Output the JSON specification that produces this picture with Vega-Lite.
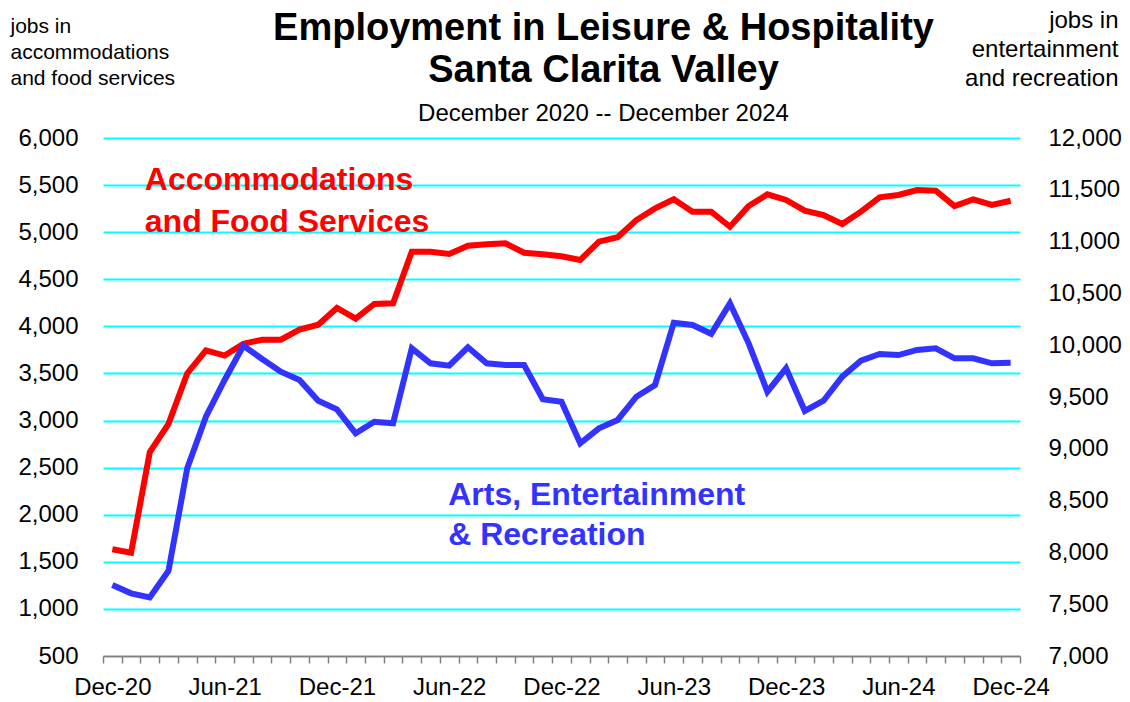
{
  "$schema": "https://vega.github.io/schema/vega-lite/v6.json",
  "width": 917,
  "height": 518,
  "autosize": {"type": "none"},
  "padding": {"left": 103, "top": 138, "right": 110, "bottom": 46},
  "background": "white",
  "config": {
    "font": "Liberation Sans",
    "view": {"stroke": null},
    "axis": {"labelFont": "Liberation Sans", "titleFont": "Liberation Sans", "labelColor": "black", "titleColor": "black"},
    "title": {"font": "Liberation Sans", "subtitleFont": "Liberation Sans"},
    "text": {"font": "Liberation Sans"}
  },
  "title": {
    "text": ["Employment in Leisure & Hospitality", "Santa Clarita Valley"],
    "subtitle": "December 2020 -- December 2024",
    "fontSize": 38,
    "fontWeight": "bold",
    "lineHeight": 42,
    "color": "black",
    "subtitleFontSize": 24,
    "subtitleColor": "black",
    "subtitlePadding": 12,
    "anchor": "middle",
    "frame": "group",
    "dx": 42,
    "offset": -118
  },
  "datasets": {
    "jobs": [
      {"month": "Dec-20", "acc": 1633, "ent": 7685},
      {"month": "Jan-21", "acc": 1597, "ent": 7605},
      {"month": "Feb-21", "acc": 2665, "ent": 7566},
      {"month": "Mar-21", "acc": 2965, "ent": 7823},
      {"month": "Apr-21", "acc": 3500, "ent": 8812},
      {"month": "May-21", "acc": 3745, "ent": 9310},
      {"month": "Jun-21", "acc": 3690, "ent": 9664},
      {"month": "Jul-21", "acc": 3815, "ent": 9995},
      {"month": "Aug-21", "acc": 3858, "ent": 9867},
      {"month": "Sep-21", "acc": 3858, "ent": 9744},
      {"month": "Oct-21", "acc": 3965, "ent": 9664},
      {"month": "Nov-21", "acc": 4018, "ent": 9464},
      {"month": "Dec-21", "acc": 4195, "ent": 9381},
      {"month": "Jan-22", "acc": 4082, "ent": 9149},
      {"month": "Feb-22", "acc": 4238, "ent": 9261},
      {"month": "Mar-22", "acc": 4245, "ent": 9246},
      {"month": "Apr-22", "acc": 4793, "ent": 9970},
      {"month": "May-22", "acc": 4793, "ent": 9825},
      {"month": "Jun-22", "acc": 4768, "ent": 9802},
      {"month": "Jul-22", "acc": 4857, "ent": 9980},
      {"month": "Aug-22", "acc": 4871, "ent": 9825},
      {"month": "Sep-22", "acc": 4882, "ent": 9809},
      {"month": "Oct-22", "acc": 4782, "ent": 9809},
      {"month": "Nov-22", "acc": 4765, "ent": 9478},
      {"month": "Dec-22", "acc": 4745, "ent": 9455},
      {"month": "Jan-23", "acc": 4705, "ent": 9053},
      {"month": "Feb-23", "acc": 4899, "ent": 9198},
      {"month": "Mar-23", "acc": 4946, "ent": 9278},
      {"month": "Apr-23", "acc": 5129, "ent": 9503},
      {"month": "May-23", "acc": 5253, "ent": 9616},
      {"month": "Jun-23", "acc": 5349, "ent": 10217},
      {"month": "Jul-23", "acc": 5218, "ent": 10195},
      {"month": "Aug-23", "acc": 5218, "ent": 10110},
      {"month": "Sep-23", "acc": 5058, "ent": 10404},
      {"month": "Oct-23", "acc": 5278, "ent": 10018},
      {"month": "Nov-23", "acc": 5402, "ent": 9551},
      {"month": "Dec-23", "acc": 5342, "ent": 9777},
      {"month": "Jan-24", "acc": 5228, "ent": 9365},
      {"month": "Feb-24", "acc": 5182, "ent": 9464},
      {"month": "Mar-24", "acc": 5087, "ent": 9696},
      {"month": "Apr-24", "acc": 5218, "ent": 9850},
      {"month": "May-24", "acc": 5370, "ent": 9915},
      {"month": "Jun-24", "acc": 5395, "ent": 9905},
      {"month": "Jul-24", "acc": 5448, "ent": 9954},
      {"month": "Aug-24", "acc": 5441, "ent": 9970},
      {"month": "Sep-24", "acc": 5278, "ent": 9873},
      {"month": "Oct-24", "acc": 5349, "ent": 9873},
      {"month": "Nov-24", "acc": 5289, "ent": 9825},
      {"month": "Dec-24", "acc": 5334, "ent": 9831}
    ]
  },
  "data": {"name": "jobs"},
  "layer": [
    {
      "layer": [
        {
          "mark": {"type": "line", "color": "#FF0000", "strokeWidth": 6},
          "encoding": {
            "x": {
              "field": "month",
              "type": "ordinal",
              "sort": null,
              "bandPosition": 0.5,
              "scale": {
                "type": "band",
                "paddingInner": 0,
                "paddingOuter": 0,
                "domain": ["Dec-20","Jan-21","Feb-21","Mar-21","Apr-21","May-21","Jun-21","Jul-21","Aug-21","Sep-21","Oct-21","Nov-21","Dec-21","Jan-22","Feb-22","Mar-22","Apr-22","May-22","Jun-22","Jul-22","Aug-22","Sep-22","Oct-22","Nov-22","Dec-22","Jan-23","Feb-23","Mar-23","Apr-23","May-23","Jun-23","Jul-23","Aug-23","Sep-23","Oct-23","Nov-23","Dec-23","Jan-24","Feb-24","Mar-24","Apr-24","May-24","Jun-24","Jul-24","Aug-24","Sep-24","Oct-24","Nov-24","Dec-24"]
              },
              "axis": {
                "title": null,
                "labelExpr": "(substring(datum.label, 0, 3) == 'Dec' || substring(datum.label, 0, 3) == 'Jun') ? datum.label : ''",
                "labelAngle": 0,
                "labelFontSize": 24,
                "labelPadding": 12,
                "labelOverlap": false,
                "labelBound": false,
                "tickBand": "extent",
                "ticks": true,
                "tickSize": 7,
                "tickColor": "#808080",
                "tickWidth": 1.5,
                "domainColor": "#808080",
                "domainWidth": 1.5,
                "grid": false
              }
            },
            "y": {
              "field": "acc",
              "type": "quantitative",
              "scale": {"domain": [500, 6000], "nice": false, "zero": false},
              "axis": {
                "orient": "left",
                "values": [500, 1000, 1500, 2000, 2500, 3000, 3500, 4000, 4500, 5000, 5500, 6000],
                "format": ",d",
                "labelFontSize": 24,
                "labelPadding": 25,
                "ticks": false,
                "domain": false,
                "grid": true,
                "gridColor": "#00FFFF",
                "gridWidth": 2,
                "title": ["jobs in", "accommodations", "and food services"],
                "titleAngle": 0,
                "titleAlign": "left",
                "titleBaseline": "alphabetic",
                "titleX": -93,
                "titleY": -106,
                "titleFontSize": 21,
                "titleFontWeight": "normal",
                "titleLineHeight": 26
              }
            }
          }
        },
        {
          "data": {"values": [{"label": "Accommodations\nand Food Services"}]},
          "mark": {"type": "text", "align": "left", "baseline": "alphabetic", "fontSize": 32, "fontWeight": "bold", "color": "#FF0000", "lineBreak": "\n", "lineHeight": 42, "dx": -5},
          "encoding": {
            "x": {"datum": "Feb-21", "type": "ordinal", "bandPosition": 0.5},
            "y": {"datum": 5448, "type": "quantitative"},
            "text": {"field": "label"}
          }
        }
      ]
    },
    {
      "layer": [
        {
          "mark": {"type": "line", "color": "#3333FF", "strokeWidth": 6},
          "encoding": {
            "x": {"field": "month", "type": "ordinal", "sort": null, "bandPosition": 0.5},
            "y": {
              "field": "ent",
              "type": "quantitative",
              "scale": {"domain": [7000, 12000], "nice": false, "zero": false},
              "axis": {
                "orient": "right",
                "values": [7000, 7500, 8000, 8500, 9000, 9500, 10000, 10500, 11000, 11500, 12000],
                "format": ",d",
                "labelFontSize": 24,
                "labelPadding": 28,
                "ticks": false,
                "domain": false,
                "grid": false,
                "title": ["jobs in", "entertainment", "and recreation"],
                "titleAngle": 0,
                "titleAlign": "right",
                "titleBaseline": "alphabetic",
                "titleX": 98,
                "titleY": -111,
                "titleFontSize": 24,
                "titleFontWeight": "normal",
                "titleLineHeight": 29
              }
            }
          }
        },
        {
          "data": {"values": [{"label": "Arts, Entertainment\n& Recreation"}]},
          "mark": {"type": "text", "align": "left", "baseline": "alphabetic", "fontSize": 32, "fontWeight": "bold", "color": "#3333FF", "lineBreak": "\n", "lineHeight": 40, "dx": -1},
          "encoding": {
            "x": {"datum": "Jun-22", "type": "ordinal", "bandPosition": 0.5},
            "y": {"datum": 8457, "type": "quantitative"},
            "text": {"field": "label"}
          }
        }
      ]
    }
  ],
  "resolve": {"scale": {"y": "independent"}}
}
